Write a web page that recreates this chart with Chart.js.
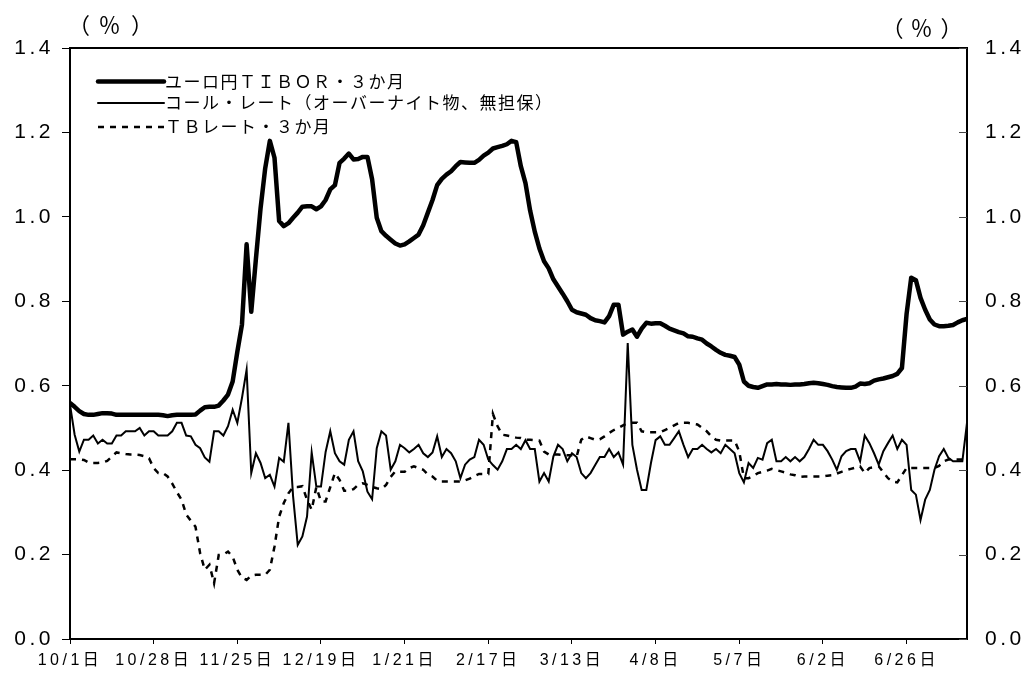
<!DOCTYPE html>
<html><head><meta charset="utf-8">
<script src="https://cdn.jsdelivr.net/npm/chart.js@4/dist/chart.umd.min.js"></script>
<style>html,body{margin:0;padding:0;background:#fff;}canvas{display:block;}</style>
</head><body>
<canvas id="c" width="1029" height="678"></canvas>
<script>
// ---- data (business days, 1997/10/1 - 1998/7) ----
const dateLabels = ['10/1日','10/28日','11/25日','12/19日','1/21日','2/17日','3/13日','4/8日','5/7日','6/2日','6/26日'];
const labelEvery = 18; // business days between labelled dates
const seriesNames = ['ユーロ円ＴＩＢＯＲ・３か月','コール・レート（オーバーナイト物、無担保）','ＴＢレート・３か月'];
const unitLabel = '（％）';
const yTicks = [0,0.2,0.4,0.6,0.8,1.0,1.2,1.4];

const tibor = [
0.559,0.550,0.540,0.533,0.531,0.531,0.533,0.535,0.535,0.534,
0.531,0.531,0.531,0.531,0.531,0.531,0.531,0.531,0.531,0.531,
0.530,0.528,0.530,0.531,0.531,0.531,0.531,0.532,0.541,0.549,
0.550,0.550,0.553,0.565,0.579,0.610,0.680,0.745,0.935,0.775,
0.900,1.020,1.115,1.180,1.140,0.990,0.978,0.985,0.998,1.010,
1.024,1.025,1.025,1.018,1.025,1.040,1.065,1.075,1.128,1.138,
1.150,1.136,1.137,1.142,1.142,1.089,0.998,0.966,0.955,0.946,
0.937,0.932,0.935,0.942,0.950,0.958,0.980,1.010,1.040,1.075,
1.090,1.100,1.108,1.120,1.130,1.129,1.128,1.128,1.135,1.145,
1.152,1.162,1.165,1.168,1.172,1.180,1.177,1.120,1.080,1.015,
0.965,0.925,0.895,0.878,0.852,0.835,0.818,0.800,0.780,0.774,
0.771,0.768,0.760,0.755,0.753,0.750,0.765,0.792,0.792,0.721,
0.728,0.733,0.716,0.735,0.749,0.747,0.748,0.748,0.742,0.735,
0.731,0.727,0.724,0.717,0.716,0.712,0.709,0.700,0.693,0.685,
0.678,0.673,0.671,0.668,0.650,0.610,0.600,0.597,0.595,0.599,
0.603,0.603,0.604,0.603,0.603,0.602,0.603,0.603,0.604,0.606,
0.607,0.606,0.604,0.602,0.599,0.597,0.596,0.595,0.595,0.598,
0.605,0.604,0.606,0.612,0.615,0.617,0.620,0.623,0.628,0.642,
0.770,0.856,0.850,0.808,0.780,0.757,0.745,0.741,0.741,0.742,
0.744,0.750,0.755,0.758];

const callRate = [
0.555,0.484,0.444,0.472,0.472,0.482,0.463,0.472,0.463,0.463,
0.482,0.482,0.492,0.492,0.492,0.500,0.482,0.492,0.492,0.482,
0.482,0.482,0.492,0.512,0.512,0.482,0.480,0.460,0.452,0.430,
0.420,0.492,0.492,0.482,0.504,0.543,0.512,0.571,0.638,0.393,
0.440,0.417,0.381,0.389,0.361,0.429,0.420,0.512,0.338,0.223,
0.243,0.290,0.442,0.361,0.361,0.443,0.492,0.440,0.421,0.413,
0.472,0.492,0.421,0.397,0.349,0.331,0.452,0.492,0.482,0.401,
0.421,0.460,0.452,0.442,0.450,0.460,0.440,0.431,0.442,0.480,
0.431,0.450,0.440,0.421,0.381,0.413,0.425,0.431,0.472,0.460,
0.425,0.412,0.401,0.421,0.450,0.450,0.460,0.450,0.471,0.450,
0.450,0.373,0.393,0.373,0.432,0.460,0.450,0.421,0.440,0.431,
0.393,0.381,0.393,0.412,0.431,0.431,0.450,0.431,0.442,0.413,
0.701,0.460,0.401,0.353,0.353,0.417,0.471,0.480,0.460,0.460,
0.476,0.492,0.460,0.431,0.450,0.450,0.460,0.450,0.442,0.450,
0.440,0.460,0.450,0.440,0.393,0.371,0.417,0.405,0.429,0.425,
0.464,0.472,0.421,0.421,0.431,0.421,0.431,0.421,0.431,0.450,
0.472,0.460,0.460,0.445,0.425,0.401,0.433,0.445,0.450,0.450,
0.421,0.482,0.464,0.440,0.413,0.445,0.464,0.482,0.450,0.472,
0.460,0.353,0.342,0.282,0.330,0.353,0.401,0.433,0.450,0.429,
0.421,0.421,0.421,0.512];

const tbRate = [
0.426,0.426,0.426,0.424,0.418,0.417,0.417,0.418,0.422,0.432,
0.442,0.440,0.438,0.437,0.437,0.436,0.433,0.428,0.405,0.393,
0.393,0.385,0.368,0.348,0.330,0.295,0.280,0.266,0.203,0.164,
0.176,0.132,0.199,0.200,0.207,0.195,0.164,0.145,0.140,0.150,
0.152,0.152,0.152,0.164,0.219,0.290,0.322,0.345,0.360,0.360,
0.362,0.330,0.306,0.360,0.326,0.326,0.360,0.393,0.377,0.351,
0.351,0.355,0.365,0.369,0.365,0.360,0.357,0.355,0.365,0.384,
0.397,0.396,0.396,0.405,0.409,0.405,0.401,0.390,0.385,0.375,
0.373,0.373,0.373,0.373,0.373,0.376,0.380,0.386,0.391,0.391,
0.391,0.533,0.504,0.484,0.482,0.480,0.477,0.476,0.472,0.472,
0.471,0.470,0.444,0.437,0.437,0.437,0.436,0.435,0.435,0.432,
0.472,0.480,0.476,0.472,0.473,0.480,0.488,0.495,0.500,0.506,
0.512,0.512,0.512,0.492,0.490,0.490,0.490,0.490,0.495,0.500,
0.506,0.512,0.512,0.512,0.510,0.508,0.500,0.492,0.480,0.472,
0.470,0.470,0.470,0.470,0.444,0.381,0.381,0.386,0.393,0.396,
0.399,0.403,0.400,0.397,0.394,0.390,0.388,0.384,0.385,0.385,
0.385,0.385,0.385,0.387,0.388,0.392,0.396,0.400,0.403,0.406,
0.409,0.393,0.405,0.407,0.409,0.395,0.381,0.373,0.371,0.388,
0.405,0.405,0.405,0.405,0.405,0.405,0.405,0.410,0.421,0.425,
0.425,0.425,0.425,0.425];

// ---- chart ----
const toXY = arr => arr.map((v, i) => ({x: i, y: v}));
const lastIndex = tibor.length - 1;

const tickFont = {family: '"Liberation Sans", "Noto Sans CJK JP", sans-serif', size: 21};
const xFont = {family: '"Liberation Sans", "Noto Sans CJK JP", sans-serif', size: 16};

// draw the unit label one glyph at a time so each glyph's ink sits on its slot
function drawUnit(ctx, text, starts, y) {
  Array.from(text).forEach((ch, k) => ctx.fillText(ch, starts[k], y));
}

const framePlugin = {
  id: 'frame',
  beforeDraw(chart) {
    chart.ctx.letterSpacing = '3.5px';
  },
  afterDraw(chart) {
    const {ctx, chartArea: a} = chart;
    ctx.save();
    ctx.letterSpacing = '0px';
    // frame
    ctx.strokeStyle = '#000';
    ctx.lineWidth = 2;
    ctx.strokeRect(a.left, a.top, a.right - a.left, a.bottom - a.top);
    // inward ticks on right axis
    const y2 = chart.scales.y2;
    ctx.lineWidth = 1;
    ctx.strokeStyle = '#444';
    y2.ticks.forEach(t => {
      const y = Math.round(y2.getPixelForValue(t.value)) + 0.5;
      ctx.beginPath(); ctx.moveTo(a.right - 8, y); ctx.lineTo(a.right, y); ctx.stroke();
    });
    // unit labels
    ctx.fillStyle = '#000';
    ctx.font = '22px "Noto Sans CJK JP"';
    ctx.textBaseline = 'middle';
    ctx.textAlign = 'left';
    drawUnit(ctx, unitLabel, [68, 98.5, 131], 25);
    drawUnit(ctx, unitLabel, [881.5, 910.5, 940.5], 28);
    // legend
    ctx.font = '17px "Noto Sans CJK JP"';
    ctx.letterSpacing = '1.5px';
    const rowsY = [81.5, 103, 127];
    chart.data.datasets.forEach((ds, k) => {
      const y = rowsY[k];
      ctx.save();
      ctx.strokeStyle = ds.borderColor;
      ctx.lineWidth = ds.borderWidth;
      ctx.lineCap = ds.borderDash ? 'butt' : 'round';
      ctx.setLineDash(ds.borderDash || []);
      ctx.beginPath(); ctx.moveTo(98, y); ctx.lineTo(164, y); ctx.stroke();
      ctx.restore();
      ctx.fillText(ds.label, 165, y);
    });
    ctx.restore();
  }
};

new Chart(document.getElementById('c'), {
  type: 'line',
  data: {
    datasets: [
      {label: seriesNames[0], data: toXY(tibor), borderColor: '#000', borderWidth: 4.5,
       borderJoinStyle: 'round', borderCapStyle: 'round', pointRadius: 0, tension: 0},
      {label: seriesNames[1], data: toXY(callRate), borderColor: '#000', borderWidth: 2,
       borderJoinStyle: 'miter', pointRadius: 0, tension: 0},
      {label: seriesNames[2], data: toXY(tbRate), borderColor: '#000', borderWidth: 2.5,
       borderDash: [6, 6], pointRadius: 0, tension: 0}
    ]
  },
  options: {
    responsive: false,
    animation: false,
    devicePixelRatio: 1,
    layout: {padding: {top: 48, left: 0, right: 0, bottom: 0}},
    plugins: {legend: {display: false}, tooltip: {enabled: false}},
    scales: {
      x: {
        type: 'linear', min: 0, max: lastIndex,
        afterBuildTicks: s => { s.ticks = dateLabels.map((_, k) => ({value: k * labelEvery})); },
        afterFit: s => { s.height = 39; },
        ticks: {callback: v => dateLabels[Math.round(v / labelEvery)], font: xFont, color: '#000',
                maxRotation: 0, autoSkip: false, padding: 7},
        grid: {drawOnChartArea: false, drawTicks: true, tickLength: 5, color: '#000', tickWidth: 1},
        border: {display: false}
      },
      y: {
        position: 'left', min: 0, max: 1.4,
        afterBuildTicks: s => { s.ticks = yTicks.map(v => ({value: v})); },
        afterFit: s => { s.width = 70; },
        ticks: {callback: v => v.toFixed(1), font: tickFont, color: '#000', padding: 8},
        grid: {drawOnChartArea: false, drawTicks: true, tickLength: 8, color: '#000', tickWidth: 1},
        border: {display: false}
      },
      y2: {
        position: 'right', min: 0, max: 1.4,
        afterBuildTicks: s => { s.ticks = yTicks.map(v => ({value: v})); },
        afterFit: s => { s.width = 62; },
        ticks: {callback: v => v.toFixed(1), font: tickFont, color: '#000', padding: 18},
        grid: {drawOnChartArea: false, drawTicks: false},
        border: {display: false}
      }
    }
  },
  plugins: [framePlugin]
});
</script>
</body></html>
